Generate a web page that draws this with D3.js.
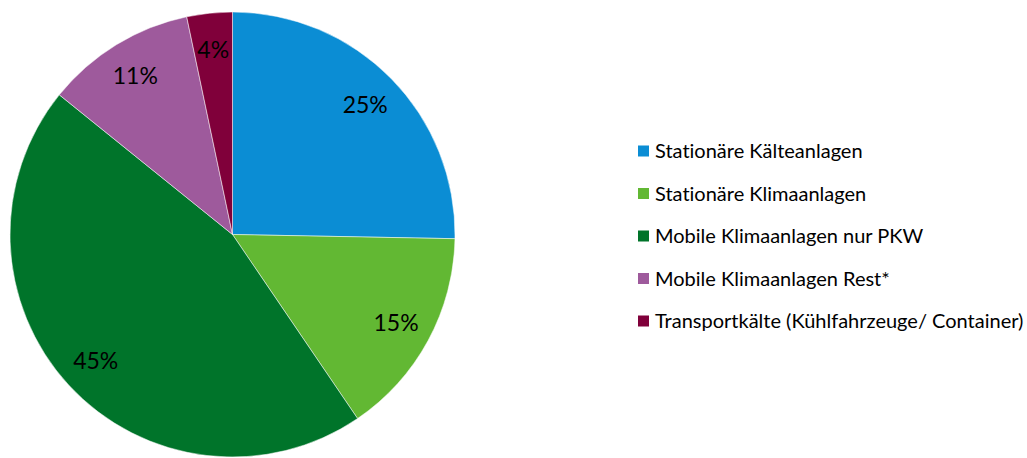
<!DOCTYPE html>
<html>
<head>
<meta charset="utf-8">
<script src="https://cdn.jsdelivr.net/npm/d3@7"></script>
<style>
  body { margin: 0; background: #fff; }
  svg { display: block; font-family: Lato, "Open Sans", sans-serif; font-variant-ligatures: none; }
</style>
</head>
<body>
<svg id="chart" width="1027" height="458"></svg>
<script>
// data
const categories = [
  "Stationäre Kälteanlagen",
  "Stationäre Klimaanlagen",
  "Mobile Klimaanlagen nur PKW",
  "Mobile Klimaanlagen Rest*",
  "Transportkälte (Kühlfahrzeuge/ Container)"
];
const values = [25.3, 15.2, 45.3, 10.9, 3.3];
const labels = ["25%", "15%", "45%", "11%", "4%"];
const colors = ["#0b8dd4", "#62b833", "#00742a", "#9e5a9c", "#80003a"];

const svg = d3.select("#chart");
const cx = 232.5, cy = 234.5, radius = 222.5;

const data = categories.map((c, i) => ({ name: c, value: values[i], label: labels[i], color: colors[i] }));

const pie = d3.pie().sort(null).value(d => d.value);
const arc = d3.arc().innerRadius(0).outerRadius(radius);
const labelArc = d3.arc().innerRadius(186).outerRadius(186);

const g = svg.append("g").attr("transform", "translate(" + cx + "," + cy + ")");

g.selectAll("path")
  .data(pie(data))
  .enter()
  .append("path")
  .attr("d", arc)
  .attr("fill", d => d.data.color)
  .attr("stroke", "#fff")
  .attr("stroke-width", 0.5);

g.selectAll("text")
  .data(pie(data))
  .enter()
  .append("text")
  .attr("transform", d => "translate(" + labelArc.centroid(d) + ")")
  .attr("text-anchor", "middle")
  .attr("dy", "0.36em")
  .attr("font-size", 23)
  .attr("fill", "#000")
  .text(d => d.data.label);

// legend
const legend = svg.append("g").attr("transform", "translate(638,151)");
const rowY = d3.scaleBand().domain(categories).range([0, 42.5 * categories.length]);

const rows = legend.selectAll("g")
  .data(data)
  .enter()
  .append("g")
  .attr("transform", d => "translate(0," + rowY(d.name) + ")");

rows.append("rect")
  .attr("x", 0)
  .attr("y", -5.5)
  .attr("width", 11)
  .attr("height", 11)
  .attr("fill", d => d.color);

rows.append("text")
  .attr("x", 17)
  .attr("dy", "0.36em")
  .attr("font-size", 20)
  .attr("fill", "#000")
  .text(d => d.name);
</script>
</body>
</html>
